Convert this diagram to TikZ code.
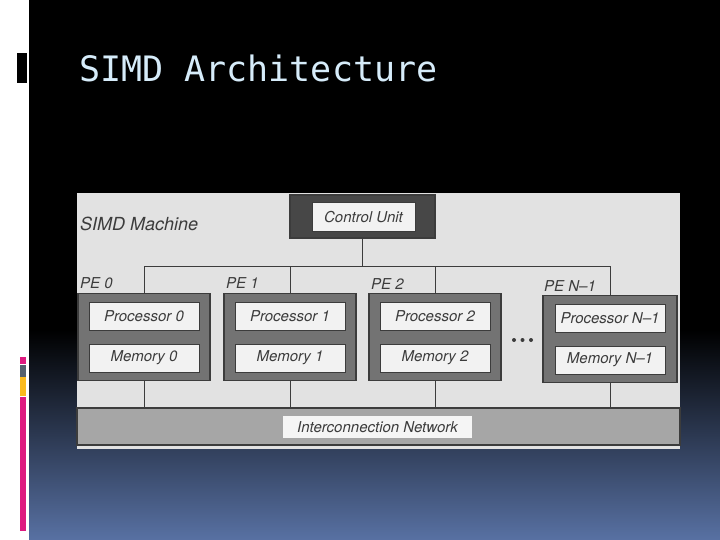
\documentclass[tikz,border=0pt]{standalone}
\usepackage{fontspec}
\usepackage{xcolor}
\setsansfont{TeX Gyre Heros}
\newfontfamily\titlefont{DejaVu Sans Mono}
\usetikzlibrary{positioning}

\definecolor{slideblue}{RGB}{88,113,163}
\definecolor{titlecol}{RGB}{214,236,250}
\definecolor{barpink}{RGB}{222,26,128}
\definecolor{bargrey}{RGB}{84,96,110}
\definecolor{baryellow}{RGB}{250,186,30}
\definecolor{panelcol}{RGB}{226,226,226}
\definecolor{inkcol}{RGB}{60,60,60}

\newcommand{\lblfont}{\sffamily\itshape\fontsize{15bp}{17bp}\selectfont}

\tikzset{
  peouter/.style={draw=inkcol, line width=1.2bp, fill=black!55,
    minimum width=132bp, minimum height=87bp, inner sep=0pt},
  innerbox/.style={draw=inkcol, line width=1bp, fill=black!5,
    minimum width=110bp, minimum height=28bp, inner sep=0pt,
    font=\lblfont, text=inkcol},
  lbl/.style={anchor=west, inner sep=0pt, font=\lblfont, text=inkcol},
  wire/.style={draw=inkcol, line width=1bp}
}

\begin{document}
\begin{tikzpicture}[x=1bp, y=-1bp]
  % slide background
  \useasboundingbox (0,0) rectangle (720,540);
  \fill[white] (0,0) rectangle (720,540);
  \fill[black] (29,0) rectangle (720,330);
  \shade[top color=black, bottom color=slideblue] (29,330) rectangle (720,540);
  \fill[black] (17,53) rectangle (27,83);
  \fill[barpink] (20,357) rectangle (26,364);
  \fill[bargrey] (20,365) rectangle (26,377);
  \fill[baryellow] (20,377) rectangle (26,396);
  \fill[barpink] (20,397) rectangle (26,531);
  \node[anchor=base west, inner sep=0pt, text=titlecol,
    font=\titlefont\fontsize{35bp}{41bp}\selectfont] (title) at (79,82) {SIMD Architecture};

  % diagram panel
  \fill[panelcol] (77,193) rectangle (680,449);
  \node[lbl, font=\sffamily\itshape\fontsize{18bp}{21bp}\selectfont] (machine) at (80,224) {SIMD Machine};

  % control unit
  \node[peouter, fill=black!72, minimum width=145bp, minimum height=43bp] (cu) at (362.5,216.5) {};
  \node[innerbox, minimum width=103bp, minimum height=29bp] (cutext) at (363.5,217.5) {Control Unit};

  % processing elements
  \node[peouter] (pe0) at (144,337) {};
  \node[peouter] (pe1) at (290,337) {};
  \node[peouter] (pe2) at (435,337) {};
  \node[peouter, minimum width=134bp] (pe3) at (610,339) {};
  \foreach \n/\t in {0/0,1/1,2/2,3/N--1} {
    \node[innerbox] (proc\n) at ([yshift=21bp]pe\n.center) {Processor \t};
    \node[innerbox] (mem\n) at ([yshift=-21bp]pe\n.center) {Memory \t};
  }
  \node[lbl] (lbl0) at (80,283) {PE 0};
  \node[lbl] (lbl1) at (226,283) {PE 1};
  \node[lbl] (lbl2) at (371,284) {PE 2};
  \node[lbl] (lbl3) at (544,286) {PE N--1};
  \fill[inkcol] (514,340) circle (2bp) (522.5,340) circle (2bp) (531,340) circle (2bp);

  % interconnection network
  \node[peouter, fill=black!35, minimum width=603bp, minimum height=37bp] (net) at (378.5,426.5) {};
  \node[innerbox, draw=none, fill=black!4, minimum width=189bp, minimum height=22bp] (nettext) at (377.5,427) {Interconnection Network};

  % wires
  \coordinate (bus) at (0,266);
  \draw[wire] (cu.south) -- (cu.south |- bus);
  \draw[wire] (pe0.north) |- (pe3.north |- bus) -- (pe3.north);
  \draw[wire] (pe1.north) -- (pe1.north |- bus);
  \draw[wire] (pe2.north) -- (pe2.north |- bus);
  \foreach \n in {0,1,2,3}
    \draw[wire] (pe\n.south) -- (pe\n.south |- net.north);
\end{tikzpicture}
\end{document}
